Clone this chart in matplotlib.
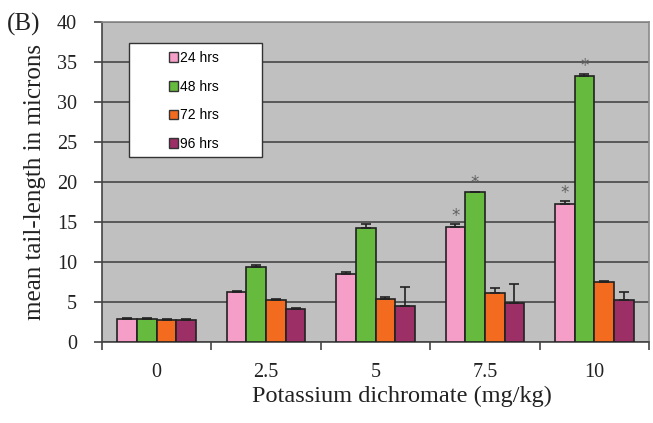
import matplotlib
matplotlib.use("Agg")
import matplotlib.pyplot as plt
import numpy as np
from matplotlib.patches import Rectangle, Patch

categories = ["0", "2.5", "5", "7.5", "10"]
series = ["24 hrs", "48 hrs", "72 hrs", "96 hrs"]
v24 = [2.9, 6.3, 8.5, 14.4, 17.2]
v48 = [2.9, 9.4, 14.3, 18.7, 33.3]
v72 = [2.8, 5.3, 5.4, 6.1, 7.5]
v96 = [2.8, 4.1, 4.5, 4.9, 5.3]
e24 = [0.05, 0.1, 0.2, 0.3, 0.4]
e48 = [0.05, 0.2, 0.5, 0.1, 0.2]
e72 = [0.1, 0.05, 0.2, 0.7, 0.1]
e96 = [0.1, 0.15, 2.4, 2.4, 1.0]
stars = {"24 hrs": [3, 4], "48 hrs": [3, 4]}

colors = ["#F59FC8", "#66BB3F", "#F26B1F", "#9C2F66"]
values = [v24, v48, v72, v96]
errors = [e24, e48, e72, e96]

fig = plt.figure(figsize=(6.53, 4.23), dpi=100)
ax = fig.add_axes([102/653, (423-342)/423, (649-102)/653, (342-22)/423])
ax.set_facecolor("#C0C0C0")

x = np.arange(len(categories))
w = 0.18
for i, (s, vals, errs, c) in enumerate(zip(series, values, errors, colors)):
    pos = x + (i - 1.5) * w
    ax.bar(pos, vals, width=w, color=c, edgecolor="#222222", linewidth=1.2, zorder=3)
    ax.errorbar(pos, vals, yerr=[np.zeros(len(errs)), errs], fmt="none",
                ecolor="#222222", elinewidth=1.2, capsize=3.5, capthick=1.2, zorder=4)
    for k in stars.get(s, []):
        ax.text(pos[k], vals[k] + errs[k] - 0.1, "*", ha="center", va="bottom",
                fontsize=12, color="#606060", zorder=5)

ax.set_ylim(0, 40)
ax.set_xlim(-0.5, len(categories) - 0.5)
ax.set_yticks(np.arange(0, 41, 5))
ax.yaxis.grid(True, color="#505050", linewidth=1.3, zorder=1)
ax.set_axisbelow(True)

ax.set_xticks(np.arange(-0.5, len(categories), 1.0))
ax.set_xticklabels([])
ax.set_xticks(x, minor=True)
ax.set_xticklabels(categories, minor=True)
ax.tick_params(axis="x", which="major", length=6, direction="out", color="#444444", width=1.2)
ax.tick_params(axis="x", which="minor", length=0, pad=15)
ax.tick_params(axis="y", length=6, direction="out", color="#444444", width=1.2, pad=12)

serif = ["Liberation Serif", "DejaVu Serif"]
for lab in ax.get_xticklabels(minor=True) + ax.get_yticklabels():
    lab.set_fontfamily(serif)
    lab.set_fontsize(14.5)
    lab.set_color("#222222")

for sp in ["left", "bottom"]:
    ax.spines[sp].set_color("#444444")
    ax.spines[sp].set_linewidth(1.2)
for sp in ["top", "right"]:
    ax.spines[sp].set_color("#8A8A8A")
    ax.spines[sp].set_linewidth(1.2)

ax.set_xlabel("Potassium dichromate (mg/kg)", fontfamily=serif, fontsize=17.5, labelpad=0,
              color="#222222")
ax.xaxis.set_label_coords(0.548, -0.137)
ax.set_ylabel("mean tail-length in microns", fontfamily=serif, fontsize=18, labelpad=8,
              color="#222222")

fig.text(7/653, 1 - 24/423, "(B)", fontfamily=serif, fontsize=18, va="center", ha="left",
         color="#222222")

# legend box
rect = Rectangle((129/653, 1 - 157/423), (262-129)/653, (157-43)/423,
                 transform=fig.transFigure, facecolor="white", edgecolor="#333333",
                 linewidth=1.0, zorder=5)
fig.patches.append(rect)
handles = [Patch(facecolor=c, edgecolor="#333333", linewidth=1.0) for c in colors]
leg = fig.legend(handles, series, loc="center", bbox_to_anchor=(194/653, 1 - 101/423),
                 frameon=False, prop={"family": "Liberation Sans", "size": 10},
                 handlelength=0.7, handleheight=0.7, handletextpad=0.15,
                 labelspacing=1.05)
leg.set_zorder(6)

fig.savefig("out.png", dpi=100)
